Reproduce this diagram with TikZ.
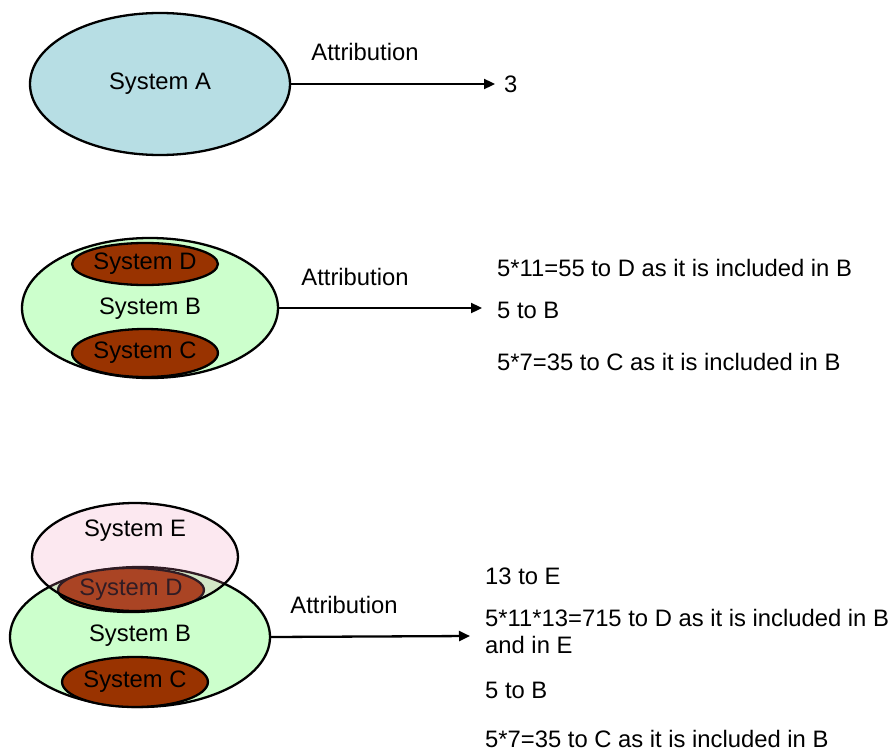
\documentclass[tikz,border=0pt]{standalone}
\usepackage{fontspec}
\setmainfont{Liberation Sans}
\usetikzlibrary{shapes.geometric,arrows.meta}
\definecolor{skyfill}{RGB}{183,222,228}
\definecolor{mintfill}{RGB}{204,255,204}
\definecolor{rustfill}{RGB}{153,51,0}
\definecolor{rosefill}{RGB}{240,140,180}
\tikzset{
  sys/.style={ellipse, draw=black, line width=2.3pt, inner sep=0pt, font=\fontsize{23.8}{28}\selectfont},
  lbl/.style={inner sep=0pt, font=\fontsize{23.8}{28}\selectfont},
  res/.style={lbl, anchor=west, align=left},
  attr/.style={line width=2.3pt, -{Triangle[length=11pt,width=10pt]}},
}
\begin{document}
\begin{tikzpicture}[x=1pt,y=-1pt]
\useasboundingbox (0,0) rectangle (894,752);

% first system: a single ellipse
\node[sys, fill=skyfill, minimum width=260pt, minimum height=142pt] (A) at (160,84) {System A};
\coordinate (aend) at (495,84);
\draw[attr] (A.east) -- (aend);
\node[lbl] (attrA) at (365,52) {Attribution};
\node[res] (rA) at (504,84) {3};

% second system: B containing D and C
\node[sys, fill=mintfill, minimum width=256pt, minimum height=140pt] (B2) at (150,308) {};
\node[lbl] (B2t) at (150,309) {System B};
\node[sys, fill=rustfill, minimum width=144pt, minimum height=42pt] (D2) at (145,264) {System D};
\node[sys, fill=rustfill, minimum width=144pt, minimum height=48pt] (C2) at (145,353) {System C};
\coordinate (bend) at (482,308);
\draw[attr] (B2.east) -- (bend);
\node[lbl] (attrB) at (355,277) {Attribution};
\node[res] (rD2) at (497,268) {5*11=55 to D as it is included in B};
\node[res] (rB2) at (497,310) {5 to B};
\node[res] (rC2) at (497,362) {5*7=35 to C as it is included in B};

% third system: E overlaps B over D
\node[sys, fill=mintfill, minimum width=260pt, minimum height=140pt] (B3) at (140,637) {};
\node[lbl] (B3t) at (140,636) {System B};
\node[sys, fill=rustfill, minimum width=136pt, minimum height=44pt] (D3) at (131,590) {System D};
\node[sys, fill=rustfill, minimum width=144pt, minimum height=50pt] (C3) at (135,682) {System C};
\node[sys, fill=rosefill, fill opacity=0.2, minimum width=206pt, minimum height=108pt] (E3) at (135,557) {};
\node[lbl] (E3t) at (135,531) {System E};
\coordinate (cend) at (470,636);
\draw[attr] (B3.east) -- (cend);
\node[lbl] (attrC) at (344,605) {Attribution};
\node[res] (rE3) at (485,576) {13 to E};
\node[res, anchor=north west] (rD3) at (485,609) {5*11*13=715 to D as it is included in B\\[-1pt]and in E};
\node[res] (rB3) at (485,690) {5 to B};
\node[res] (rC3) at (485,739) {5*7=35 to C as it is included in B};
\end{tikzpicture}
\end{document}
